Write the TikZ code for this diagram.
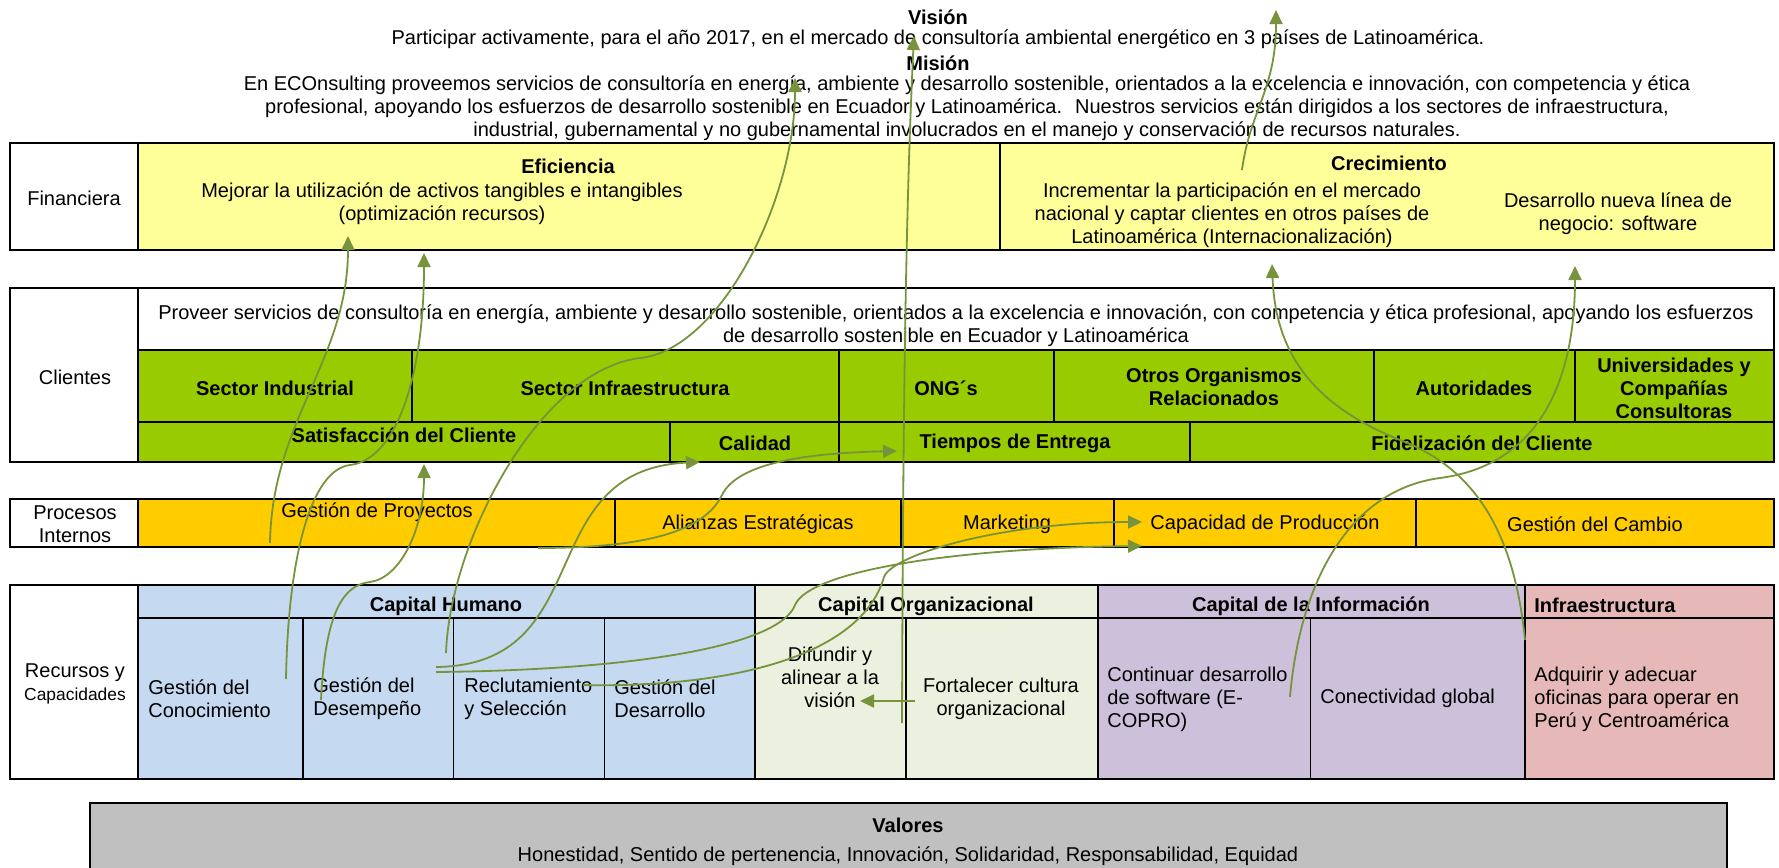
\documentclass[tikz,border=0pt]{standalone}
\usepackage{fontspec}
\setmainfont{Liberation Sans}
\usetikzlibrary{arrows.meta}
\definecolor{finyellow}{RGB}{255,255,153}
\definecolor{cligreen}{RGB}{153,204,0}
\definecolor{procorange}{RGB}{255,204,0}
\definecolor{humblue}{RGB}{197,217,241}
\definecolor{orgmint}{RGB}{235,241,222}
\definecolor{infolilac}{RGB}{204,192,218}
\definecolor{infrapink}{RGB}{230,184,183}
\definecolor{valgray}{RGB}{192,192,192}
\definecolor{linkgreen}{RGB}{119,147,60}
\tikzset{
  txt/.style={font=\fontsize{10}{11.5}\selectfont, align=center, inner sep=0pt},
  txtl/.style={txt, align=left, anchor=west},
  hdr/.style={txt, font=\fontsize{10}{11.5}\selectfont\bfseries},
  frame/.style={draw=black, line width=1.4pt},
  rule/.style={draw=black, line width=1.1pt},
  thinrule/.style={draw=black, line width=0.8pt},
  link/.style={draw=linkgreen, line width=0.9pt, -{Triangle[length=7pt, width=6.5pt]}},
}

\begin{document}
\begin{tikzpicture}[x=0.5pt, y=-0.5pt]
  \useasboundingbox (0,0) rectangle (1779,868);
  % fills
  \fill[finyellow] (138,143) rectangle (1774,250);
  \fill[cligreen] (138,350) rectangle (1774,462);
  \fill[procorange] (138,499) rectangle (1774,547);
  \fill[humblue] (138,585) rectangle (755,779);
  \fill[orgmint] (755,585) rectangle (1098,779);
  \fill[infolilac] (1098,585) rectangle (1525,779);
  \fill[infrapink] (1525,585) rectangle (1774,779);
  \fill[valgray] (90,803) rectangle (1727,868);
  % financiera
  \draw[frame] (10,143) rectangle (1774,250);
  \draw[rule] (138,143) -- (138,250) (1000,143) -- (1000,250);
  % clientes
  \draw[frame] (10,288) rectangle (1774,462);
  \draw[rule] (138,288) -- (138,462) (138,350) -- (1774,350) (138,422) -- (1774,422);
  \foreach \x in {412,839,1054,1374,1575} \draw[rule] (\x,350) -- (\x,422);
  \foreach \x in {670,839,1190} \draw[rule] (\x,422) -- (\x,462);
  % procesos
  \draw[frame] (10,499) rectangle (1774,547);
  \foreach \x in {138,615,901,1114,1416} \draw[rule] (\x,499) -- (\x,547);
  % recursos
  \draw[frame] (10,585) rectangle (1774,779);
  \draw[rule] (138,585) -- (138,779) (138,618) -- (1774,618);
  \foreach \x in {755,1098,1525} \draw[rule] (\x,585) -- (\x,779);
  \foreach \x in {303,453.5,604.5,906,1310.5} \draw[thinrule] (\x,618) -- (\x,779);
  % valores
  \draw[frame] (90,868) |- (1727,803) -- (1727,868);

  \node[hdr] (vision) at (938,17) {Visión};
  \node[txt] (visiontxt) at (938,39) {Participar activamente, para el año 2017, en el mercado de consultoría ambiental energético en 3 países de Latinoamérica.};
  \node[hdr] (mision) at (938,63) {Misión};
  \node[txt] (misiontxt) at (967,108) {En ECOnsulting proveemos servicios de consultoría en energía, ambiente y desarrollo sostenible, orientados a la excelencia e innovación, con competencia y ética\\profesional, apoyando los esfuerzos de desarrollo sostenible en Ecuador y Latinoamérica.~ Nuestros servicios están dirigidos a los sectores de infraestructura,\\industrial, gubernamental y no gubernamental involucrados en el manejo y conservación de recursos naturales.};

  \node[txt] (fin) at (74,198) {Financiera};
  \node[hdr] (efic) at (568,166) {Eficiencia};
  \node[txt] (eficTxt) at (442,204) {Mejorar la utilización de activos tangibles e intangibles\\(optimización recursos)};
  \node[hdr] (crec) at (1389,163) {Crecimiento};
  \node[txt] (crecTxt) at (1232,215) {Incrementar la participación en el mercado\\nacional y captar clientes en otros países de\\Latinoamérica (Internacionalización)};
  \node[txt] (nueva) at (1618,214) {Desarrollo nueva línea de\\negocio: software};

  \node[txt] (cli) at (75,377) {Clientes};
  \node[txt] (proveer) at (956,326) {Proveer servicios de consultoría en energía, ambiente y desarrollo sostenible, orientados a la excelencia e innovación, con competencia y ética profesional, apoyando los esfuerzos\\de desarrollo sostenible en Ecuador y Latinoamérica};
  \node[hdr] (sInd) at (275,388) {Sector Industrial};
  \node[hdr] (sInfra) at (625,388) {Sector Infraestructura};
  \node[hdr] (ong) at (946,388) {ONG´s};
  \node[hdr] (otros) at (1214,387) {Otros Organismos\\Relacionados};
  \node[hdr] (autor) at (1474,388) {Autoridades};
  \node[hdr] (univ) at (1674,388) {Universidades y\\Compañías\\Consultoras};
  \node[hdr] (satisf) at (404,435) {Satisfacción del Cliente};
  \node[hdr] (calidad) at (755,443) {Calidad};
  \node[hdr] (tiempos) at (1015,443) {Tiempos de Entrega};
  \node[hdr] (fidel) at (1482,443) {Fidelización del Cliente};

  \node[txt] (proc) at (75,524) {Procesos\\Internos};
  \node[txt] (gproy) at (377,512) {Gestión de Proyectos};
  \node[txt] (alianzas) at (758,524) {Alianzas Estratégicas};
  \node[txt] (mkt) at (1007,524) {Marketing};
  \node[txt] (capprod) at (1265,524) {Capacidad de Producción};
  \node[txt] (gcambio) at (1595,524) {Gestión del Cambio};

  \node[txt] (rec) at (75,684) {Recursos y\\{\fontsize{8.7}{10}\selectfont Capacidades}};
  \node[hdr] (capHum) at (446,606) {Capital Humano};
  \node[hdr] (capOrg) at (926,606) {Capital Organizacional};
  \node[hdr] (capInfo) at (1311,606) {Capital de la Información};
  \node[hdr, anchor=west] (capInfra) at (1534,605) {Infraestructura};
  \node[txtl] (gConoc) at (148,699) {Gestión del\\Conocimiento};
  \node[txtl] (gDesemp) at (313,699) {Gestión del\\Desempeño};
  \node[txtl] (reclut) at (464,699) {Reclutamiento\\y Selección};
  \node[txtl] (gDesarr) at (614,699) {Gestión del\\Desarrollo};
  \node[txt] (difundir) at (830,677) {Difundir y\\alinear a la\\visión};
  \node[txt] (fortal) at (1001,699) {Fortalecer cultura\\organizacional};
  \node[txtl] (software) at (1107,699) {Continuar desarrollo\\de software (E-\\COPRO)};
  \node[txtl] (conect) at (1320,698) {Conectividad global};
  \node[txtl] (adquirir) at (1534,699) {Adquirir y adecuar\\oficinas para operar en\\Perú y Centroamérica};

  \node[hdr] (valores) at (908,825) {Valores};
  \node[txt] (valTxt) at (908,856) {Honestidad, Sentido de pertenencia, Innovación, Solidaridad, Responsabilidad, Equidad};

  % connector ends
  \coordinate (proyA) at (270,543);     \coordinate (eficA) at (348,236);
  \coordinate (conocA) at (286,679);    \coordinate (eficB) at (424,253);
  \coordinate (desempA) at (321,700);   \coordinate (satisfA) at (424,464);
  \coordinate (desempB) at (446,653);   \coordinate (misionA) at (795,78);
  \coordinate (desempC) at (436,667);   \coordinate (calidadA) at (700,462);
  \coordinate (desempD) at (436,672);   \coordinate (capprodA) at (1142,546);
  \coordinate (reclutA) at (583,685);   \coordinate (capprodB) at (1142,522);
  \coordinate (proyB) at (538,548);     \coordinate (tiemposA) at (897,451);
  \coordinate (difundirA) at (902,723); \coordinate (visionA) at (914,36);
  \coordinate (fortalA) at (915,701);   \coordinate (difundirB) at (860,701);
  \coordinate (softA) at (1290,697);    \coordinate (nuevaA) at (1575,266);
  \coordinate (infraA) at (1525,640);   \coordinate (crecA) at (1272,264);
  \coordinate (crecB) at (1242,170);    \coordinate (visionB) at (1276,10);

  \draw[link] (proyA) .. controls (272,420) and (348,360) .. (eficA);
  \draw[link] (conocA) .. controls (288,560) and (310,470) .. (350,465) .. controls (395,460) and (424,380) .. (eficB);
  \draw[link] (desempA) .. controls (325,620) and (340,585) .. (370,582) .. controls (400,578) and (424,530) .. (satisfA);
  \draw[link] (desempB) .. controls (450,540) and (540,370) .. (640,358) .. controls (720,350) and (795,200) .. (misionA);
  \draw[link] (desempC) .. controls (600,665) and (530,470) .. (calidadA);
  \draw[link] (desempD) .. controls (640,670) and (780,645) .. (795,605) .. controls (810,570) and (960,548) .. (capprodA);
  \draw[link] (reclutA) .. controls (720,688) and (860,660) .. (884,577) .. controls (892,555) and (1000,522) .. (capprodB);
  \draw[link] (proyB) .. controls (650,548) and (705,530) .. (722,495) .. controls (738,462) and (810,453) .. (tiemposA);
  \draw[link] (difundirA) .. controls (903,400) and (906,200) .. (visionA);
  \draw[link] (fortalA) -- (difundirB);
  \draw[link] (softA) .. controls (1300,580) and (1350,490) .. (1440,478) .. controls (1540,465) and (1575,380) .. (nuevaA);
  \draw[link] (infraA) .. controls (1515,540) and (1480,470) .. (1400,440) .. controls (1300,400) and (1275,340) .. (crecA);
  \draw[link] (crecB) .. controls (1250,110) and (1276,90) .. (visionB);
\end{tikzpicture}
\end{document}
